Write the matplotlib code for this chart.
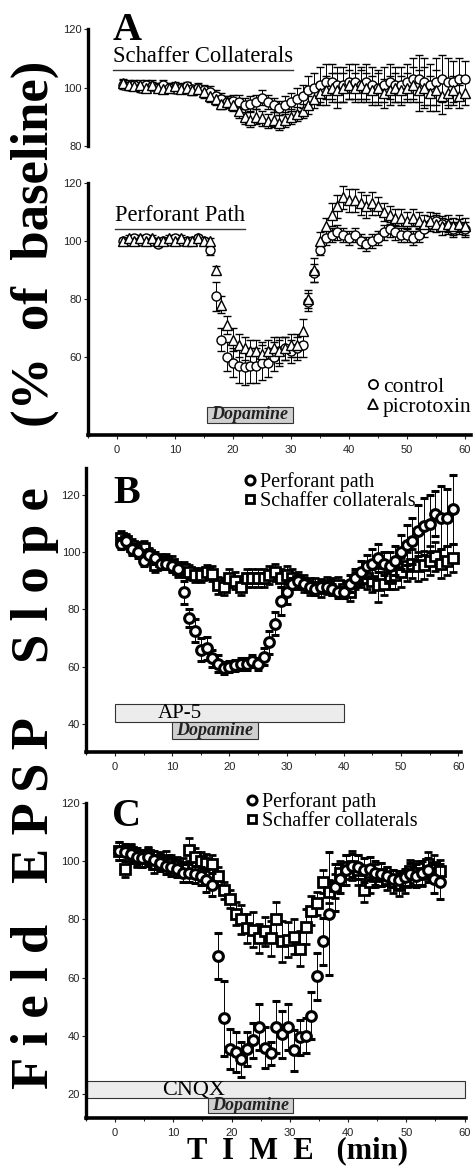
import numpy as np
import matplotlib.pyplot as plt
from matplotlib.lines import Line2D
from matplotlib.patches import Rectangle

SERIF = ['Liberation Serif', 'DejaVu Serif']
SANS = ['Liberation Sans', 'DejaVu Sans']

# ---------------- data ----------------
# panel A, Schaffer collaterals (control = circles, picrotoxin = triangles)
t_a = np.arange(1, 61)
sc_ctrl = [101, 100.5, 101, 100, 101, 100.5, 100, 101, 100, 99.5, 100, 100.5, 99.5, 100,
           99, 98.5, 97, 96, 95, 95.5, 95, 94, 94.5, 95, 96.5, 95, 94, 93,
           94, 95, 96, 97, 99, 100, 101,
           102, 102, 101, 101, 102, 102, 101, 102, 101, 100, 101, 102, 101, 101, 102,
           103, 103, 102, 101, 102, 103, 102, 102, 103, 103]
sc_ctrl_err = [1.5] * 14 + [2] * 6 + [2.5] * 8 + [3, 3, 4, 4, 5, 5, 6] + [6] * 15 + [7, 8, 8, 7, 8, 8, 8, 7, 7, 6]
sc_picro = [101.5, 101, 100.5, 101, 100, 101, 100, 99.5, 100, 100.5, 99.5, 100, 99, 99.5,
            98.5, 97, 96, 94.5, 95, 94, 92, 90, 89, 90, 89.5, 88.5, 89, 88, 89, 90, 91, 92,
            94, 96, 98, 99, 100, 99,
            100, 101, 100, 101, 100, 99, 100, 98, 99, 100, 99, 100, 101, 99, 100, 98, 99, 97, 98, 99, 97, 98]
sc_picro_err = [1.5] * 14 + [2] * 6 + [2.5] * 12 + [3, 3, 4, 5, 5, 6] + [5] * 12 + [6, 7, 7, 6, 7, 6, 5, 5, 4, 4]

# panel A, perforant path
pp_ctrl = [100, 100, 101, 100, 101, 100, 99, 100, 100, 101, 100, 100, 100, 101, 100,
           97, 81, 66, 60, 58, 57, 56.5, 57, 57, 58, 58, 60, 62, 63, 62, 63, 64,
           79, 89, 97, 101, 102, 103, 102, 101, 102, 100, 99, 100, 101, 103, 104, 103, 102, 102,
           101, 102, 104, 106, 107, 106, 105, 104, 105, 104]
pp_ctrl_err = [1] * 15 + [2, 5, 4] + [5, 5, 6, 6, 6, 6, 6, 5, 5, 5, 4, 4, 4, 4] + [3, 3, 2] + [2.5] * 25
pp_picro = [100, 101, 100, 101, 100, 101, 100, 100, 101, 100, 101, 100, 100, 101, 100, 100,
            90, 78, 71, 66, 64, 63, 62, 62, 61, 62, 63, 62, 63, 64, 64, 69,
            80, 90, 100, 105, 109, 112, 115, 114, 114, 113, 112, 113, 112, 110, 109, 108, 108, 107,
            108, 107, 106, 107, 106, 105, 106, 105, 106, 105]
pp_picro_err = [1] * 16 + [1.5, 3, 3] + [4] * 13 + [3, 4, 3, 3, 4, 4, 4, 4, 4, 4, 4, 4, 3] + [3] * 15

# panel B (AP-5)
t_b = np.arange(1, 60)
b_pp = [103, 104, 101, 100, 97, 99, 98, 96, 96, 95, 94, 86, 77, 72.5, 66, 66.5, 63, 61, 59.5, 60,
        60.5, 61, 61, 62, 61, 63.5, 68.5, 75, 83, 86, 89, 90, 89, 88, 87, 88, 88, 87, 86, 86,
        89, 91, 93, 95, 96, 98, 96, 95, 97, 100, 102.5, 104, 107.5, 109, 110, 113.5, 112, 112, 115]
b_pp_err = [2] * 11 + [4, 3, 4, 4, 4, 3, 3, 2, 2, 2, 2, 2, 2, 2, 3, 4, 4, 5, 4] + [2] * 10 + \
           [3, 3, 4, 4, 5, 5, 4, 5, 5, 6, 7, 8, 9, 10, 10, 8, 11, 10, 12]
b_sc = [105, 104, 102, 101, 101.5, 99, 95.5, 97, 97, 96, 94, 94, 93, 92, 92, 93, 92.5, 88.5, 88, 91,
        90, 88, 91, 91, 91, 91, 92, 93, 91, 92, 91, 90, 89, 88, 88, 87.5, 88.5, 88, 88.5, 87,
        86, 90, 91, 91, 90, 88.5, 89, 91, 92, 93, 95, 96, 95, 95.5, 97, 98.5, 96, 97, 98]
b_sc_err = [2.5] * 17 + [3] * 23 + [3, 3, 3, 4, 4, 6, 4, 4, 5, 5, 5, 5, 5, 5, 5, 5, 5, 5, 5]

# panel C (CNQX)
t_c = np.arange(56) + 0.7
c_pp = [103.5, 103, 102.5, 101.5, 101, 101.5, 100.5, 99.5, 98.5, 98, 97.5, 96, 96, 95.5, 95, 93.5, 92,
        67.5, 46, 35.5, 34.5, 32, 35.5, 38.5, 43, 36, 34, 43, 40.5, 43, 35, 39.5, 40, 47, 60.5, 72.5,
        82, 91, 94, 97, 98.5, 98, 97, 97.5, 96, 95.5, 95, 94, 93.5, 94.5, 95.5, 95, 96, 97, 94, 93]
c_pp_err = [3] * 14 + [3, 4, 4, 8, 13, 7, 7, 6, 6, 6, 8, 7, 4, 9, 8, 8, 7, 6, 6, 8, 8, 8,
                       21, 8, 5, 5, 4, 4, 4, 4, 4, 4, 3, 3, 3, 3, 4, 4, 4, 4, 5, 6]
c_sc = [103.5, 97.5, 103, 101, 101, 102, 99, 100, 100.5, 99, 98.5, 98, 104, 101.5, 100, 99.5, 99,
        95, 90, 87, 82, 80, 77, 76.5, 73.5, 76, 73.5, 80, 72.5, 73, 74, 70, 77.5, 83, 85.5, 93,
        89.5, 91.5, 96, 98, 98.5, 97, 90, 93, 95, 95.5, 94, 93, 92, 93, 96.5, 96, 95.5, 99, 98, 96.5]
c_sc_err = [3] * 12 + [4, 3, 3, 3, 3, 3, 3, 3, 4, 5, 5, 6, 5, 5, 6, 6, 7, 6, 6, 6, 6, 5, 4, 4,
                       4, 4, 4, 4, 5, 5, 4, 4, 4, 4, 4, 4, 4, 4, 4, 4, 4, 4, 4, 4]

# drug application bars (start, end, low, high)
dopa_a = (15.5, 30.3, 37.2, 42.8)
dopa_b = (10, 25, 34.8, 40.7)
ap5_b = (0, 40, 40.7, 47)
dopa_c = (15.9, 30.5, 13.4, 18.6)
cnqx_c = (-4.8, 60, 18.6, 24.5)

# ---------------- figure ----------------
W, H = 476, 1171
fig = plt.figure(figsize=(W / 100, H / 100), dpi=100)
fig.patch.set_facecolor('white')


def px_axes(x0, y_top, x1, y_bot):
    return fig.add_axes([x0 / W, 1 - y_bot / H, (x1 - x0) / W, (y_bot - y_top) / H])


def style(ax, xlim, ylim, yticks, xaxis=True):
    ax.set_xlim(*xlim)
    ax.set_ylim(*ylim)
    for s in ['top', 'right']:
        ax.spines[s].set_visible(False)
    ax.spines['left'].set_linewidth(2.4)
    ax.spines['bottom'].set_linewidth(2.6)
    ax.set_yticks(yticks)
    ax.tick_params(axis='both', labelsize=8, length=3, width=0.8, colors='#222222', pad=1.5)
    for lab in ax.get_yticklabels() + ax.get_xticklabels():
        lab.set_family(SANS)
    if xaxis:
        ax.set_xticks(range(0, 61, 10))
        ax.set_xticks(range(-5, 61, 5), minor=True)
        ax.tick_params(axis='x', which='minor', length=2, width=0.6)
        ax.tick_params(axis='x', pad=4)
    else:
        ax.spines['bottom'].set_visible(False)
        ax.set_xticks([])


def series(ax, t, y, e, marker, ms, mew, z=3):
    ax.errorbar(t, y, yerr=e, fmt=marker, ms=ms, mfc='white', mec='black', mew=mew,
                ecolor='black', elinewidth=0.7, capsize=3, capthick=0.7, zorder=z, clip_on=False)


def box(ax, spec, fill, label, **kw):
    x0, x1, y0, y1 = spec
    ax.add_patch(Rectangle((x0, y0), x1 - x0, y1 - y0, facecolor=fill, edgecolor='#333333',
                           lw=0.8, zorder=1, clip_on=False))
    if label:
        ax.text((x0 + x1) / 2, (y0 + y1) / 2, label, ha='center', va='center', zorder=2, **kw)


dopa_kw = dict(family=SERIF, fontsize=13, fontweight='bold', style='italic', color='#222222')
leg_kw = dict(frameon=False, handlelength=0.6, labelspacing=0.0, borderpad=0)

# panel A top: Schaffer collaterals
axA1 = px_axes(88, 29, 470.8, 146)
style(axA1, (-5, 61), (80, 120), [80, 100, 120], xaxis=False)
series(axA1, t_a, sc_ctrl, sc_ctrl_err, 'o', 6.5, 1.0)
series(axA1, t_a, sc_picro, sc_picro_err, '^', 6.5, 1.0)
txt1 = axA1.text(-0.7, 108.6, 'Schaffer Collaterals', family=SERIF, fontsize=16.3, va='baseline')

# panel A bottom: perforant path
axA2 = px_axes(88, 183, 470.8, 435)
style(axA2, (-5, 61), (33.1, 120), [60, 80, 100, 120])
series(axA2, t_a, pp_ctrl, pp_ctrl_err, 'o', 6.5, 1.0)
series(axA2, t_a, pp_picro, pp_picro_err, '^', 6.5, 1.0)
txt2 = axA2.text(-0.4, 107.0, 'Perforant Path', family=SERIF, fontsize=16.3, va='baseline')
box(axA2, dopa_a, '#cfcfcf', 'Dopamine', **dopa_kw)
hA = [Line2D([], [], ls='none', marker='o', ms=6.5, mfc='white', mec='black', mew=1.3),
      Line2D([], [], ls='none', marker='^', ms=7, mfc='white', mec='black', mew=1.3)]
axA2.legend(hA, ['control', 'picrotoxin'], loc='lower right', bbox_to_anchor=(1.03, 0.03),
            prop={'family': SERIF, 'size': 15.5}, handletextpad=0.15, **leg_kw)

# panel B: AP-5
axB = px_axes(86.4, 468, 461.1, 752)
style(axB, (-5, 60.5), (30.2, 129.4), [40, 60, 80, 100, 120])
series(axB, t_b, b_sc, b_sc_err, 's', 6.5, 2.0, z=3)
series(axB, t_b, b_pp, b_pp_err, 'o', 7, 2.2, z=4)
box(axB, ap5_b, '#ececec', None)
axB.text(11.3, 43.8, 'AP-5', family=SERIF, fontsize=15, ha='center', va='center', zorder=2)
box(axB, dopa_b, '#cfcfcf', 'Dopamine', **dopa_kw)
hB = [Line2D([], [], ls='none', marker='o', ms=6.5, mfc='white', mec='black', mew=2.2),
      Line2D([], [], ls='none', marker='s', ms=6, mfc='white', mec='black', mew=2.0)]
axB.legend(hB, ['Perforant path', 'Schaffer collaterals'], loc='upper left',
           bbox_to_anchor=(0.394, 1.021), prop={'family': SERIF, 'size': 14.5},
           handletextpad=0.2, **leg_kw)

# panel C: CNQX
axC = px_axes(85.8, 803, 465.8, 1118)
style(axC, (-5, 60.2), (11.8, 120), [20, 40, 60, 80, 100, 120])
series(axC, t_c, c_sc, c_sc_err, 's', 6.5, 2.0, z=3)
series(axC, t_c, c_pp, c_pp_err, 'o', 7, 2.2, z=4)
box(axC, cnqx_c, '#ececec', None)
axC.text(13.5, 21.4, 'CNQX', family=SERIF, fontsize=16, ha='center', va='center', zorder=2)
box(axC, dopa_c, '#cfcfcf', 'Dopamine', **dopa_kw)
axC.legend(hB, ['Perforant path', 'Schaffer collaterals'], loc='upper left',
           bbox_to_anchor=(0.395, 1.066), prop={'family': SERIF, 'size': 14.5},
           handletextpad=0.2, **leg_kw)

# panel letters
for lab, x, y in [('A', 113, 40), ('B', 113, 503), ('C', 112, 826)]:
    fig.text(x / W, 1 - y / H, lab, family=SERIF, fontsize=29, fontweight='bold', va='baseline')

# vertical axis title, spread letters
for word, yc in [('(%  of  baseline)', 244), ('S l o p e', 575), ('E P S P', 800), ('F i e l d', 1006)]:
    fig.text(35 / W, 1 - yc / H, word, family=SERIF, fontsize=38, fontweight='bold',
             rotation=90, ha='center', va='center')

fig.text(187 / W, 1 - 1158 / H, 'T  I  M  E   (min)', family=SERIF, fontsize=22,
         fontweight='bold', ha='left', va='baseline')

# underline the two pathway labels
fig.canvas.draw()
for t in (txt1, txt2):
    bb = t.get_window_extent()
    fig.add_artist(Line2D([bb.x0 / W, bb.x1 / W], [(bb.y0 - 3) / H, (bb.y0 - 3) / H],
                          color='#333333', lw=1.0))

fig.savefig('out.png', dpi=100)
